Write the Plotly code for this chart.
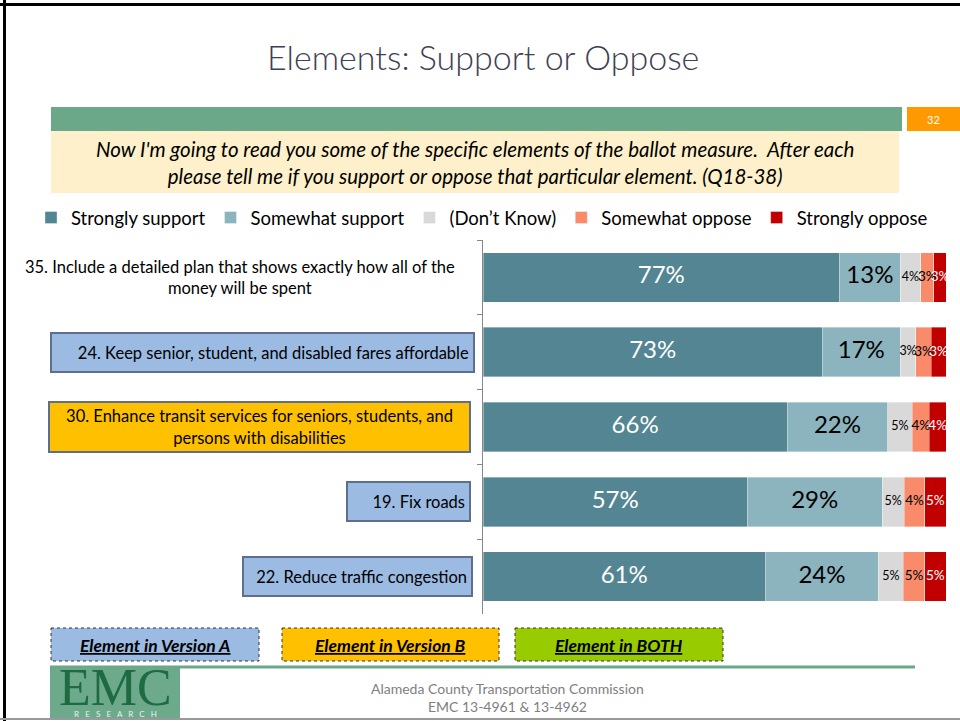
import plotly.graph_objects as go

# ---------------- data ----------------
question_ids = ["Q35", "Q24", "Q30", "Q19", "Q22"]
question_labels = [
    "35. Include a detailed plan that shows exactly how all of the<br>money will be spent",
    "24. Keep senior, student, and disabled fares affordable",
    "30. Enhance transit services for seniors, students, and<br>persons with disabilities",
    "19. Fix roads",
    "22. Reduce traffic congestion",
]
question_versions = ["", "A", "B", "A", "A"]

series_names = ["Strongly support", "Somewhat support", "(Don\u2019t Know)",
                "Somewhat oppose", "Strongly oppose"]
strongly_support = [77.0, 73.3, 65.7, 57.1, 61.0]
somewhat_support = [13.1, 16.8, 21.7, 29.1, 24.4]
dont_know = [4.4, 3.4, 5.3, 4.8, 5.4]
somewhat_oppose = [2.9, 3.3, 3.7, 4.4, 4.6]
strongly_oppose = [2.6, 3.2, 3.6, 4.6, 4.6]

version_legend = ["Element in Version A", "Element in Version B", "Element in BOTH"]

# ---------------- styles ----------------
FONT = "Lato, 'Open Sans', sans-serif"
series_colors = ["#538592", "#8BB4BE", "#D9D9D9", "#F98B6B", "#C00000"]
label_colors = ["white", "black", "black", "black", "white"]
label_sizes = [24, 24, 12.5, 13.5, 13.5]
version_fill = {"A": "#9BBBE3", "B": "#FFC000", "BOTH": "#99CC00"}

W, H = 960, 721
PL, PR, PT, PB = 483, 946, 240, 614  # plot area in pixels


def px(x):
    return (x - PL) / (PR - PL)


def py(y):
    return (PB - y) / (PB - PT)


fig = go.Figure()

all_series = [strongly_support, somewhat_support, dont_know, somewhat_oppose, strongly_oppose]
for name, vals, col in zip(series_names, all_series, series_colors):
    fig.add_trace(go.Bar(
        y=question_ids, x=vals, orientation="h", name=name,
        marker=dict(color=col, line=dict(color="rgba(255,255,255,0.6)", width=0.6)),
        hovertemplate="%{x:.0f}%<extra>" + name + "</extra>",
    ))

# value labels at the centre of each segment
left = [0.0] * len(question_ids)
for i, vals in enumerate(all_series):
    centers = [l + v / 2 for l, v in zip(left, vals)]
    fig.add_trace(go.Scatter(
        y=question_ids, x=centers, mode="text",
        text=[f"{round(v)}%" for v in vals],
        textfont=dict(family=FONT, size=label_sizes[i], color=label_colors[i]),
        textposition="middle center", showlegend=False, hoverinfo="skip",
        cliponaxis=True,
    ))
    left = [l + v for l, v in zip(left, vals)]

# category labels (boxes by version)
box_geom = [  # (right edge px, box width px, align)
    (470, 462, "center"),
    (475, 425, "right"),
    (471, 423, "center"),
    (471, 125, "right"),
    (473, 231, "right"),
]
box_heights = [None, 41, 52, 41, 41]
annotations = []
for qid, lab, ver, (rx, bw, al), bh in zip(question_ids, question_labels, question_versions,
                                           box_geom, box_heights):
    a = dict(xref="paper", yref="y", x=px(rx), y=qid, xanchor="right", yanchor="middle",
             text=lab, showarrow=False, align=al, width=bw - 12,
             font=dict(family=FONT, size=16.5, color="black"), borderpad=4)
    if bh:
        a["height"] = bh - 12
    if ver:
        a.update(bgcolor=version_fill[ver], bordercolor="#5E6E8C", borderwidth=2)
    annotations.append(a)

# title and slide texts
annotations += [
    dict(xref="paper", yref="paper", x=px(483), y=py(56), text="Elements: Support or Oppose",
         showarrow=False, xanchor="center", yanchor="middle",
         font=dict(family=FONT, size=34, color="#404052", weight=300)),
    dict(xref="paper", yref="paper", x=px(475), y=py(162),
         text="<i>Now I'm going to read you some of the specific elements of the ballot measure.  After each"
              "<br>please tell me if you support or oppose that particular element. (Q18-38)</i>",
         showarrow=False, xanchor="center", yanchor="middle", align="center",
         font=dict(family=FONT, size=20.5, color="black")),
    dict(xref="paper", yref="paper", x=px(933), y=py(119), text="32", showarrow=False,
         xanchor="center", yanchor="middle", font=dict(family=FONT, size=11, color="white")),
    dict(xref="paper", yref="paper", x=px(507), y=py(697),
         text="Alameda County Transportation Commission<br>EMC 13-4961 &amp; 13-4962",
         showarrow=False, xanchor="center", yanchor="middle", align="center",
         font=dict(family=FONT, size=14, color="#808080")),
    dict(xref="paper", yref="paper", x=px(115), y=py(687), text="EMC", showarrow=False,
         xanchor="center", yanchor="middle",
         font=dict(family="'Liberation Serif', 'DejaVu Serif', serif", size=52, color="#1E6A43")),
    dict(xref="paper", yref="paper", x=px(115), y=py(714), text="R   E   S   E   A   R   C   H",
         showarrow=False, xanchor="center", yanchor="middle",
         font=dict(family=FONT, size=8, color="#E8F2EC")),
]

shapes = [
    # slide borders
    dict(type="line", xref="paper", yref="paper", x0=px(4.5), x1=px(4.5), y0=py(0), y1=py(721),
         line=dict(color="black", width=3)),
    dict(type="line", xref="paper", yref="paper", x0=px(0), x1=px(960), y0=py(4.5), y1=py(4.5),
         line=dict(color="black", width=3)),
    dict(type="line", xref="paper", yref="paper", x0=px(0), x1=px(960), y0=py(719), y1=py(719),
         line=dict(color="#999999", width=2)),
    # header green bar, number box, yellow question box
    dict(type="rect", xref="paper", yref="paper", x0=px(51), x1=px(902), y0=py(107), y1=py(131),
         fillcolor="#6AA889", line=dict(width=0), layer="below"),
    dict(type="rect", xref="paper", yref="paper", x0=px(907), x1=px(960), y0=py(107), y1=py(131),
         fillcolor="#FF9900", line=dict(width=0), layer="below"),
    dict(type="rect", xref="paper", yref="paper", x0=px(51), x1=px(899), y0=py(131), y1=py(193),
         fillcolor="#FEF0CA", line=dict(width=0), layer="below"),
    # footer line and logo
    dict(type="line", xref="paper", yref="paper", x0=px(50), x1=px(915), y0=py(667), y1=py(667),
         line=dict(color="#6AA889", width=3)),
    dict(type="rect", xref="paper", yref="paper", x0=px(50), x1=px(180), y0=py(668), y1=py(719),
         fillcolor="#6DAA8B", line=dict(width=0), layer="below"),
]

# version key boxes at the bottom
key_geom = [(51, 259), (282, 499), (515, 723)]
for txt, key, (x0, x1) in zip(version_legend, ["A", "B", "BOTH"], key_geom):
    shapes.append(dict(type="rect", xref="paper", yref="paper", x0=px(x0), x1=px(x1),
                       y0=py(628), y1=py(661), fillcolor=version_fill[key],
                       line=dict(color="#333333", width=1, dash="dot"), layer="below"))
    annotations.append(dict(xref="paper", yref="paper", x=px((x0 + x1) / 2), y=py(645),
                            text=f"<b><i><u>{txt}</u></i></b>", showarrow=False,
                            xanchor="center", yanchor="middle",
                            font=dict(family=FONT, size=17.5, color="black")))

fig.update_layout(
    width=W, height=H,
    margin=dict(l=PL, r=W - PR, t=PT, b=H - PB, autoexpand=False),
    barmode="stack", bargap=0.338,
    paper_bgcolor="white", plot_bgcolor="white",
    showlegend=True,
    legend=dict(orientation="h", x=px(31), y=py(218), xanchor="left", yanchor="middle",
                font=dict(family=FONT, size=18.5, color="black"), bgcolor="rgba(0,0,0,0)",
                traceorder="normal"),
    xaxis=dict(range=[0, 100], visible=False, fixedrange=True),
    yaxis=dict(type="category", autorange="reversed", showticklabels=False,
               showline=True, linecolor="#888888", linewidth=1,
               ticks="outside", ticklen=5, tickcolor="#888888", tickson="boundaries",
               showgrid=False, zeroline=False),
    annotations=annotations, shapes=shapes,
    font=dict(family=FONT),
)

fig.write_html("out.html")
